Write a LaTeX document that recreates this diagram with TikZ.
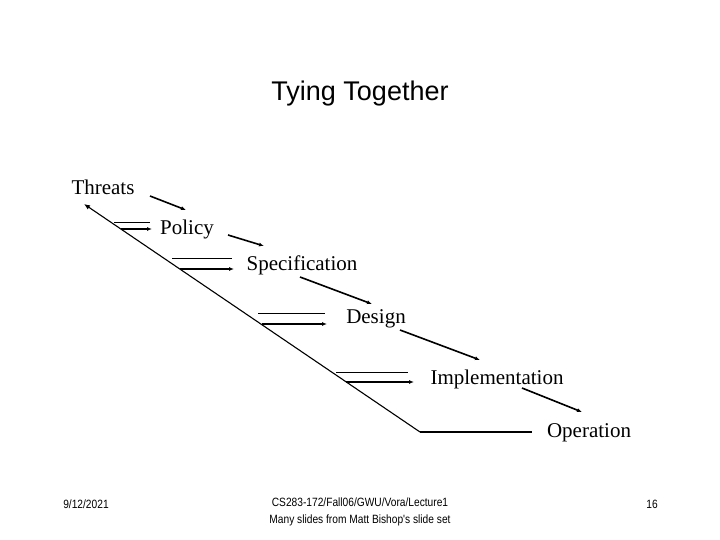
\documentclass[tikz,border=0pt]{standalone}
\usepackage{fontspec}
\usetikzlibrary{arrows.meta}
\setmainfont{Liberation Serif}
\newfontfamily\arial{Liberation Sans}
\begin{document}
\begin{tikzpicture}[x=1pt,y=-1pt,
  lbl/.style={inner sep=0pt,font=\fontsize{21}{24}\selectfont},
  ln/.style={line width=1.1pt},
  arr/.style={line width=1.6pt,-{Latex[length=5pt,width=4pt]}}]
\useasboundingbox (0,0) rectangle (720,540);
\node[font=\arial\fontsize{27}{30}\selectfont] (title) at (360,94) {Tying Together};
\node[lbl] (threats) at (103,187) {Threats};
\node[lbl] (policy) at (187,229) {Policy};
\node[lbl] (spec) at (302,265) {Specification};
\node[lbl] (design) at (376,319) {Design};
\node[lbl] (impl) at (497,379) {Implementation};
\node[lbl] (op) at (589,433) {Operation};
% main diagonal
\coordinate (d0) at (420,432); \coordinate (d1) at (84,204);
\draw[ln,-{Latex[length=6pt,width=5pt]}] (d0) -- (d1);
\coordinate (oe) at (532,432);
\draw[ln] (d0) -- (oe);
% stage connectors
\foreach \ya/\xa/\xb/\yb/\xc/\xd/\n in {222/114/150/229/121/152/p,258/172/232/269/180/234/s,313/258/325/324/262/327/d,372/336/408/382/346/414/i}{
  \coordinate (u\n a) at (\xa,\ya); \coordinate (u\n b) at (\xb,\ya);
  \coordinate (l\n a) at (\xc,\yb); \coordinate (l\n b) at (\xd,\yb);
  \draw[line width=0.8pt] (u\n a) -- (u\n b);
  \draw[arr] (l\n a) -- (l\n b);
}
% diagonal flow arrows
\coordinate (a1) at (150,196); \coordinate (b1) at (186,210);
\coordinate (a2) at (228,235); \coordinate (b2) at (264,246);
\coordinate (a3) at (300,277); \coordinate (b3) at (372,304);
\coordinate (a4) at (400,330); \coordinate (b4) at (480,360);
\coordinate (a5) at (522,388); \coordinate (b5) at (582,412);
\foreach \k in {1,...,5}{\draw[arr] (a\k) -- (b\k);}
\node[font=\arial\fontsize{12}{14}\selectfont\addfontfeatures{FakeStretch=0.85}] (date) at (86,504) {9/12/2021};
\node[font=\arial\fontsize{12}{17}\selectfont\addfontfeatures{FakeStretch=0.85},align=center] (foot) at (360,512) {CS283-172/Fall06/GWU/Vora/Lecture1\\Many slides from Matt Bishop's slide set};
\node[font=\arial\fontsize{12}{14}\selectfont\addfontfeatures{FakeStretch=0.85}] (pg) at (652,504) {16};
\end{tikzpicture}
\end{document}
